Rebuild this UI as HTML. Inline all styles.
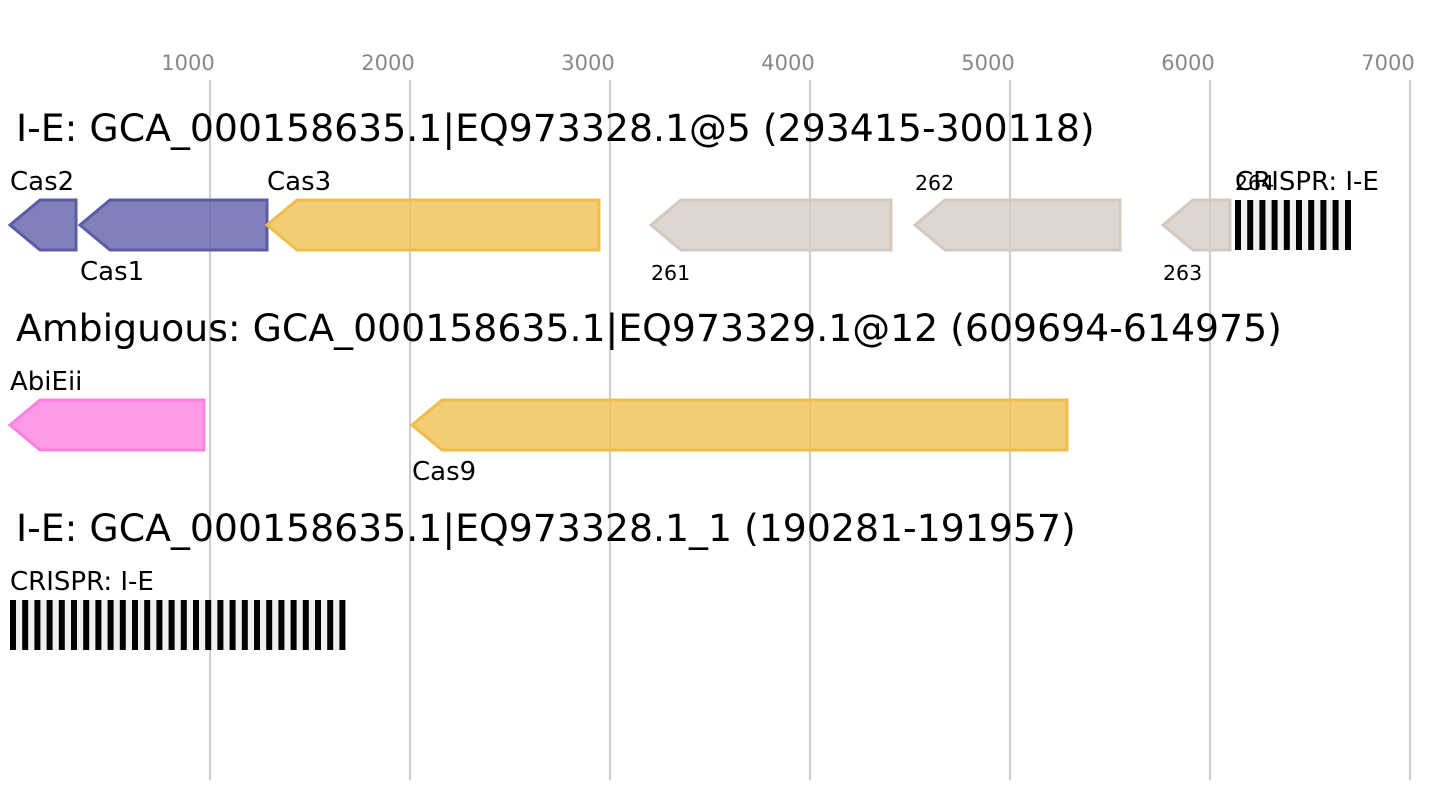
<!DOCTYPE html>
<html><head><meta charset="utf-8"><style>body{margin:0;background:#fff}svg{display:block}text{font-family:"DejaVu Sans","Liberation Sans",sans-serif}</style></head><body>
<svg width="1441" height="800" viewBox="0 0 1441 800" xmlns="http://www.w3.org/2000/svg">
<rect width="1441" height="800" fill="#fff"/>
<g stroke="#bbb" stroke-width="1.5">
<line x1="210" y1="80" x2="210" y2="780"/><line x1="410" y1="80" x2="410" y2="780"/><line x1="610" y1="80" x2="610" y2="780"/><line x1="810" y1="80" x2="810" y2="780"/><line x1="1010" y1="80" x2="1010" y2="780"/><line x1="1210" y1="80" x2="1210" y2="780"/><line x1="1410" y1="80" x2="1410" y2="780"/>
</g>
<g fill="#888" font-size="21" text-anchor="middle">
<text x="188" y="70">1000</text><text x="388" y="70">2000</text><text x="588" y="70">3000</text><text x="788" y="70">4000</text><text x="988" y="70">5000</text><text x="1188" y="70">6000</text><text x="1388" y="70">7000</text>
</g>
<g font-size="37.8" fill="#000">
<text x="16" y="141">I-E: GCA_000158635.1|EQ973328.1@5 (293415-300118)</text>
<text x="16" y="341">Ambiguous: GCA_000158635.1|EQ973329.1@12 (609694-614975)</text>
<text x="16" y="541">I-E: GCA_000158635.1|EQ973328.1_1 (190281-191957)</text>
</g>
<g stroke-width="3" fill-opacity="0.85">
<polygon points="10,225 40,200 76,200 76,250 40,250" fill="#6a6aae" stroke="#5b5ba8"/>
<polygon points="80,225 110,200 267,200 267,250 110,250" fill="#6a6aae" stroke="#5b5ba8"/>
<polygon points="267,225 297,200 599,200 599,250 297,250" fill="#f0c45e" stroke="#f0bd4a"/>
<polygon points="651,225 681,200 891,200 891,250 681,250" fill="#d8cfc9" stroke="#d5c8be"/>
<polygon points="915,225 945,200 1120,200 1120,250 945,250" fill="#d8cfc9" stroke="#d5c8be"/>
<polygon points="1163,225 1193,200 1230,200 1230,250 1193,250" fill="#d8cfc9" stroke="#d5c8be"/>
<polygon points="10,425 40,400 204,400 204,450 40,450" fill="#ff88e4" stroke="#ff80e0"/>
<polygon points="412,425 442,400 1067,400 1067,450 442,450" fill="#f0c45e" stroke="#f0bd4a"/>
</g>
<rect x="1235" y="200" width="116" height="50" fill="#f0f0f0"/>
<g fill="#000">
<rect x="1235" y="200" width="6" height="50"/><rect x="1247.2" y="200" width="6" height="50"/><rect x="1259.4" y="200" width="6" height="50"/><rect x="1271.6" y="200" width="6" height="50"/><rect x="1283.8" y="200" width="6" height="50"/><rect x="1296" y="200" width="6" height="50"/><rect x="1308.2" y="200" width="6" height="50"/><rect x="1320.4" y="200" width="6" height="50"/><rect x="1332.6" y="200" width="6" height="50"/><rect x="1345" y="200" width="6" height="50"/>
</g>
<rect x="10" y="600" width="335" height="50" fill="#f0f0f0"/>
<g fill="#000">
<rect x="10" y="600" width="6" height="50"/><rect x="22.2" y="600" width="6" height="50"/><rect x="34.4" y="600" width="6" height="50"/><rect x="46.6" y="600" width="6" height="50"/><rect x="58.8" y="600" width="6" height="50"/><rect x="71" y="600" width="6" height="50"/><rect x="83.2" y="600" width="6" height="50"/><rect x="95.4" y="600" width="6" height="50"/><rect x="107.6" y="600" width="6" height="50"/><rect x="119.8" y="600" width="6" height="50"/><rect x="132" y="600" width="6" height="50"/><rect x="144.2" y="600" width="6" height="50"/><rect x="156.4" y="600" width="6" height="50"/><rect x="168.6" y="600" width="6" height="50"/><rect x="180.8" y="600" width="6" height="50"/><rect x="193" y="600" width="6" height="50"/><rect x="205.2" y="600" width="6" height="50"/><rect x="217.4" y="600" width="6" height="50"/><rect x="229.6" y="600" width="6" height="50"/><rect x="241.8" y="600" width="6" height="50"/><rect x="254" y="600" width="6" height="50"/><rect x="266.2" y="600" width="6" height="50"/><rect x="278.4" y="600" width="6" height="50"/><rect x="290.6" y="600" width="6" height="50"/><rect x="302.8" y="600" width="6" height="50"/><rect x="315" y="600" width="6" height="50"/><rect x="327.2" y="600" width="6" height="50"/><rect x="339.4" y="600" width="6" height="50"/>
</g>
<g font-size="26" fill="#000">
<text x="10" y="190">Cas2</text><text x="80" y="280">Cas1</text><text x="267" y="190">Cas3</text>
<text x="1235" y="190">CRISPR: I-E</text>
<text x="10" y="390">AbiEii</text><text x="412" y="480">Cas9</text>
<text x="10" y="590">CRISPR: I-E</text>
</g>
<g font-size="20.5" fill="#000">
<text x="651" y="280">261</text><text x="915" y="190">262</text><text x="1163" y="280">263</text><text x="1235" y="190">264</text>
</g>
</svg>
</body></html>
